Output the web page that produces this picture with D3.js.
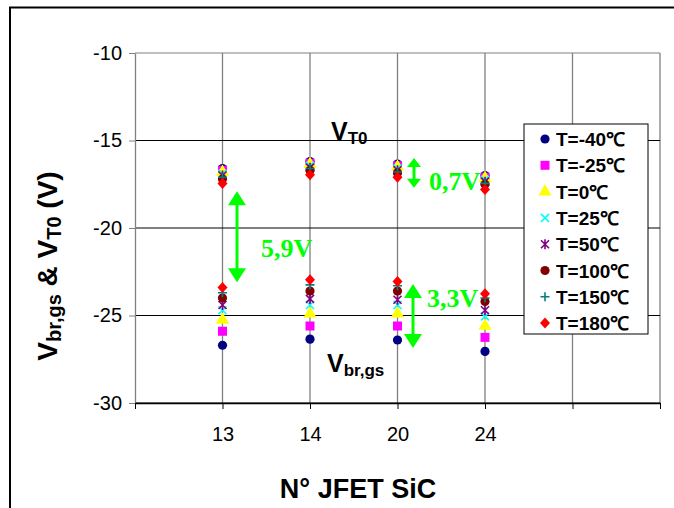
<!DOCTYPE html>
<html><head><meta charset="utf-8">
<script src="https://cdn.jsdelivr.net/npm/d3@7"></script>
<style>body{margin:0;background:#fff}svg{display:block}</style>
</head><body>
<script>
const categories = ["13","14","20","24"];
const temps = ["T=-40℃","T=-25℃","T=0℃","T=25℃","T=50℃","T=100℃","T=150℃","T=180℃"];
const yTicks = [-30,-25,-20,-15,-10];
// V_T0 (upper cluster), one array per temperature, values for 13,14,20,24
const vt0_m40  = [-16.6,-16.2,-16.35,-17.0];
const vt0_m25  = [-16.7,-16.3,-16.45,-17.1];
const vt0_0    = [-16.8,-16.35,-16.5,-17.15];
const vt0_25   = [-16.9,-16.45,-16.6,-17.25];
const vt0_50   = [-17.0,-16.55,-16.7,-17.35];
const vt0_100  = [-17.2,-16.7,-16.85,-17.5];
const vt0_150  = [-17.1,-16.6,-16.8,-17.45];
const vt0_180  = [-17.45,-16.95,-17.1,-17.8];
// V_br,gs (lower cluster)
const vbr_m40  = [-26.7,-26.35,-26.4,-27.05];
const vbr_m25  = [-25.9,-25.6,-25.6,-26.25];
const vbr_0    = [-25.25,-24.9,-24.9,-25.6];
const vbr_25   = [-24.7,-24.4,-24.4,-25.05];
const vbr_50   = [-24.4,-24.05,-24.1,-24.7];
const vbr_100  = [-24.0,-23.6,-23.6,-24.2];
const vbr_150  = [-23.7,-23.25,-23.3,-24.0];
const vbr_180  = [-23.4,-22.95,-23.05,-23.75];
const vt0 = [vt0_m40,vt0_m25,vt0_0,vt0_25,vt0_50,vt0_100,vt0_150,vt0_180];
const vbr = [vbr_m40,vbr_m25,vbr_0,vbr_25,vbr_50,vbr_100,vbr_150,vbr_180];
const colors = ["#000080","#FF00FF","#FFFF00","#00FFFF","#800080","#800000","#008080","#FF0000"];
const shapes = ["circle","square","triangle","x","star","circle","plus","diamond"];

const W=674,H=508;
const FONT="Liberation Sans, Arial";
const svg=d3.select("body").append("svg").attr("width",W).attr("height",H);
svg.append("rect").attr("x",0).attr("y",0).attr("width",W).attr("height",H).attr("fill","#fff");
svg.append("rect").attr("x",10).attr("y",7.5).attr("width",720).attr("height",560)
  .attr("fill","none").attr("stroke","#000").attr("stroke-width",2);

const L=135,R=660,T=53,B=403;
const x=d3.scaleLinear().domain([0,6]).range([L,R]);
const y=d3.scaleLinear().domain([-30,-10]).range([B,T]);

const g=svg.append("g");
g.selectAll(".vg").data(d3.range(1,7)).join("line")
  .attr("x1",d=>x(d)).attr("x2",d=>x(d)).attr("y1",T).attr("y2",B)
  .attr("stroke","#808080").attr("stroke-width",1.3);
g.selectAll(".hg").data(yTicks).join("line")
  .attr("x1",L).attr("x2",R).attr("y1",d=>y(d)).attr("y2",d=>y(d))
  .attr("stroke",d=>d===-10?"#808080":"#000").attr("stroke-width",1.2);

const ya=d3.axisLeft(y).tickValues(yTicks).tickSize(6).tickSizeOuter(0).tickPadding(7).tickFormat(d=>String(d));
const yg=svg.append("g").attr("transform",`translate(${L},0)`).call(ya);
yg.select(".domain").attr("stroke","#808080").attr("stroke-width",1.3);
yg.selectAll(".tick line").attr("stroke","#808080");
yg.selectAll("text").attr("font-family",FONT).attr("font-size",20).attr("fill","#000");

const xa=d3.axisBottom(x).tickValues(d3.range(0,7)).tickSize(6).tickSizeOuter(0).tickPadding(18)
  .tickFormat(d=> (d>=1&&d<=4)?categories[d-1]:"");
const xg=svg.append("g").attr("transform",`translate(0,${B})`).call(xa);
xg.select(".domain").attr("stroke","#000").attr("stroke-width",1.3);
xg.selectAll(".tick line").attr("stroke","#000");
xg.selectAll("text").attr("font-family",FONT).attr("font-size",20).attr("fill","#000");

function marker(sel,shape,color){
  if(shape==="circle") sel.append("circle").attr("r",4.6).attr("fill",color);
  else if(shape==="square") sel.append("rect").attr("x",-4.5).attr("y",-4.5).attr("width",9).attr("height",9).attr("fill",color);
  else if(shape==="triangle") sel.append("path").attr("d",d3.symbol(d3.symbolTriangle,75)()).attr("fill",color);
  else if(shape==="diamond") sel.append("path").attr("d",`M0,-5.5L5,0L0,5.5L-5,0Z`).attr("fill",color);
  else if(shape==="x") sel.append("path").attr("d",`M-4,-4L4,4M-4,4L4,-4`).attr("stroke",color).attr("stroke-width",1.6).attr("fill","none");
  else if(shape==="plus") sel.append("path").attr("d",`M-4.5,0L4.5,0M0,-4.5L0,4.5`).attr("stroke",color).attr("stroke-width",1.6).attr("fill","none");
  else if(shape==="star") sel.append("path").attr("d",`M-4,-4L4,4M-4,4L4,-4M0,-5L0,5`).attr("stroke",color).attr("stroke-width",1.6).attr("fill","none");
}
const pts=svg.append("g");
temps.forEach((t,i)=>{
  [vt0[i],vbr[i]].forEach(arr=>{
    arr.forEach((v,j)=>{
      const m=pts.append("g").attr("transform",`translate(${x(j+1)},${y(v)})`);
      marker(m,shapes[i],colors[i]);
    });
  });
});

// annotations
const green="#00FF00";
function dblArrow(xp,y1,y2,hw,hh){
  const a=svg.append("g");
  a.append("line").attr("x1",xp).attr("x2",xp).attr("y1",y1+hh-1).attr("y2",y2-hh+1).attr("stroke",green).attr("stroke-width",3);
  a.append("path").attr("d",`M${xp},${y1}L${xp+hw},${y1+hh}L${xp-hw},${y1+hh}Z`).attr("fill",green);
  a.append("path").attr("d",`M${xp},${y2}L${xp+hw},${y2-hh}L${xp-hw},${y2-hh}Z`).attr("fill",green);
}
dblArrow(237,y(-17.9),y(-23.1),9,14);
dblArrow(414,y(-16.0),y(-17.7),7,9);
dblArrow(413,y(-23.2),y(-26.85),9,14);
function gtext(txt,xp,yp){
  svg.append("text").attr("x",xp).attr("y",yp).text(txt)
    .attr("font-family","Liberation Serif, Times New Roman").attr("font-weight","bold")
    .attr("font-size",26).attr("fill",green);
}
gtext("5,9V",261,257);
gtext("0,7V",429,190);
gtext("3,3V",427,307);

const vt=svg.append("text").attr("x",331).attr("y",140).attr("font-family",FONT).attr("font-weight","bold").attr("font-size",25);
vt.append("tspan").text("V");
vt.append("tspan").text("T0").attr("font-size",17).attr("dy",4);
const vb=svg.append("text").attr("x",327).attr("y",372).attr("font-family",FONT).attr("font-weight","bold").attr("font-size",25);
vb.append("tspan").text("V");
vb.append("tspan").text("br,gs").attr("font-size",17).attr("dy",4);

const yt=svg.append("text").attr("transform",`translate(57,266) rotate(-90)`).attr("text-anchor","middle")
  .attr("font-family",FONT).attr("font-weight","bold").attr("font-size",28);
yt.append("tspan").text("V");
yt.append("tspan").text("br,gs").attr("font-size",20).attr("dy",4);
yt.append("tspan").text(" & V").attr("dy",-4);
yt.append("tspan").text("T0").attr("font-size",20).attr("dy",4);
yt.append("tspan").text(" (V)").attr("dy",-4);

svg.append("text").attr("x",358).attr("y",498).attr("text-anchor","middle")
  .attr("font-family",FONT).attr("font-weight","bold").attr("font-size",27).text("N° JFET SiC");

const lg=svg.append("g");
lg.append("rect").attr("x",524).attr("y",124).attr("width",124).attr("height",210).attr("fill","#fff").attr("stroke","#000").attr("stroke-width",1);
temps.forEach((t,i)=>{
  const yy=139+i*26.3;
  const m=lg.append("g").attr("transform",`translate(545,${yy})`);
  marker(m,shapes[i],colors[i]);
  lg.append("text").attr("x",556).attr("y",yy+7).text(t)
    .attr("font-family",FONT).attr("font-weight","bold").attr("font-size",19);
});
</script>
</body></html>
